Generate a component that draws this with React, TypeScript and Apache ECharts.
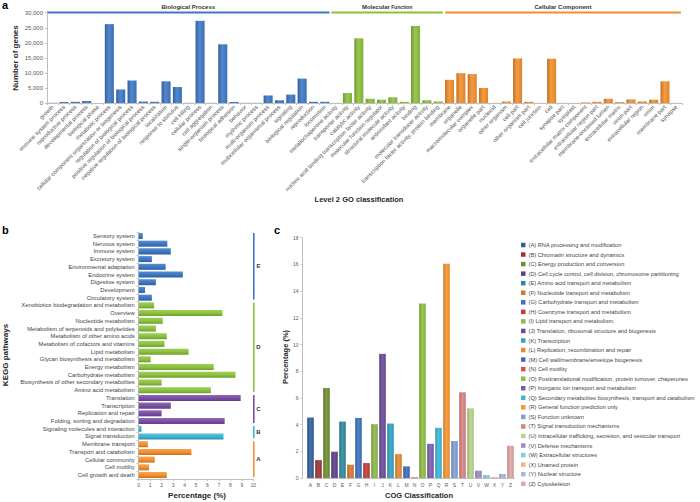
import React, { useEffect, useRef } from "react";
import * as echarts from "echarts";

// ---------- Panel a: Level 2 GO classification ----------
const goCategories = [
  "growth", "immune system process", "reproductive process", "developmental process", "biological phase",
  "metabolic process", "cellular component organization or biogenesis", "regulation of biological process",
  "positive regulation of biological process", "negative regulation of biological process", "localization",
  "response to stimulus", "cell killing", "cellular process", "cell aggregation", "single-organism process",
  "biological adhesion", "behavior", "rhythmic process", "multi-organism process", "multicellular organismal process",
  "signaling", "biological regulation", "reproduction", "locomotion",
  "metallochaperone activity", "transporter activity", "catalytic activity",
  "nucleic acid binding transcription factor activity", "molecular function regulator", "structural molecule activity",
  "antioxidant activity", "binding", "molecular transducer activity", "transcription factor activity, protein binding",
  "membrane", "organelle", "macromolecular complex", "organelle part", "nucleoid", "other organism", "cell part",
  "other organism part", "cell junction", "cell", "synapse part", "symplast", "extracellular matrix component",
  "extracellular region part", "membrane-enclosed lumen", "extracellular matrix", "virion part", "extracellular region",
  "virion", "membrane part", "synapse",
];
const goValues = [
  60, 350, 400, 700, 40, 26200, 4500, 7500, 500, 400, 7200, 5300, 40, 27300, 40, 19500, 350, 50, 50, 2500, 900,
  2800, 8100, 400, 400,
  30, 3300, 21500, 1400, 1100, 1900, 400, 25600, 900, 500,
  7700, 9900, 9600, 5000, 40, 500, 14800, 400, 40, 14700, 40, 40, 200, 400, 1400, 300, 1200, 500, 1100, 7200, 40,
];
const goGroupNames = ["Biological Process", "Molecular Function", "Cellular Component"];
const goGroupSizes = [25, 10, 21];
const goGroupColors = ["#3d78c6", "#8cbf3c", "#f28e2c"];

// ---------- Panel b: KEGG pathways ----------
const keggCategories = [
  "Sensory system", "Nervous system", "Immune system", "Excretory system", "Environmental adaptation",
  "Endocrine system", "Digestive system", "Development", "Circulatory system",
  "Xenobiotics biodegradation and metabolism", "Overview", "Nucleotide metabolism",
  "Metabolism of terpenoids and polyketides", "Metabolism of other amino acids", "Metabolism of cofactors and vitamins",
  "Lipid metabolism", "Glycan biosynthesis and metabolism", "Energy metabolism", "Carbohydrate metabolism",
  "Biosynthesis of other secondary metabolites", "Amino acid metabolism",
  "Translation", "Transcription", "Replication and repair", "Folding, sorting and degradation",
  "Signaling molecules and interaction", "Signal transduction",
  "Membrane transport", "Transport and catabolism", "Cellular community", "Cell motility", "Cell growth and death",
];
const keggValues = [
  0.35, 2.5, 2.8, 1.15, 2.35, 3.85, 1.5, 0.55, 1.15,
  1.35, 7.3, 2.1, 1.5, 2.45, 2.25, 4.35, 1.05, 6.55, 8.45, 2.0, 6.3,
  8.9, 2.8, 2.0, 7.5,
  0.25, 7.4,
  0.8, 4.6, 1.4, 0.9, 2.45,
];
const keggGroupLetters = ["E", "D", "C", "B", "A"];
const keggGroupSizes = [9, 12, 4, 2, 5];
const keggGroupColors = ["#3d78c6", "#8cc43c", "#7b4fa8", "#3eb5d4", "#f5922f"];

// ---------- Panel c: COG classification ----------
const cogLetters = ["A", "B", "C", "D", "E", "F", "G", "H", "I", "J", "K", "L", "M", "N", "O", "P", "Q", "R", "S", "T", "U", "V", "W", "X", "Y", "Z"];
const cogValues = [4.53, 1.34, 6.74, 1.97, 4.23, 1.0, 4.5, 1.12, 4.03, 9.3, 4.08, 1.79, 0.87, 0.05, 13.08, 2.56, 3.76, 16.04, 2.77, 6.42, 5.22, 0.55, 0.22, 0.07, 0.3, 2.42];
const cogDescriptions = [
  "RNA processing and modification", "Chromatin structure and dynamics", "Energy production and conversion",
  "Cell cycle control, cell division, chromosome partitioning", "Amino acid transport and metabolism",
  "Nucleotide transport and metabolism", "Carbohydrate transport and metabolism", "Coenzyme transport and metabolism",
  "Lipid transport and metabolism", "Translation, ribosomal structure and biogenesis", "Transcription",
  "Replication, recombination and repair", "Cell wall/membrane/envelope biogenesis", "Cell motility",
  "Posttranslational modification, protein turnover, chaperones", "Inorganic ion transport and metabolism",
  "Secondary metabolites biosynthesis, transport and catabolism", "General function prediction only",
  "Function unknown", "Signal transduction mechanisms", "Intracellular trafficking, secretion, and vesicular transport",
  "Defense mechanisms", "Extracellular structures", "Unamed protein", "Nuclear structure", "Cytoskeleton",
];
const cogColors = [
  "#2f5f9e", "#a03232", "#6f8f2f", "#5f3f8a", "#2f8aa0", "#d9782a", "#3b72c2", "#c23b3b", "#8fb84a",
  "#6a4a9a", "#2fa3c3", "#e8892e", "#3a6cc0", "#d94f4f", "#8cbf3f", "#7c5cb0", "#3bb8d8", "#f7952e",
  "#7f9fd6", "#d98282", "#b9d38a", "#9d8bc6", "#7fcce0", "#f7b57f", "#a9b6dd", "#e2a5a5",
];

const FONT = "Liberation Sans, Arial, sans-serif";

function shade(hex: string, amt: number): string {
  const n = parseInt(hex.slice(1), 16);
  let r = (n >> 16) & 255, g = (n >> 8) & 255, b = n & 255;
  const t = amt < 0 ? 0 : 255;
  const p = Math.abs(amt);
  r = Math.round(r + (t - r) * p);
  g = Math.round(g + (t - g) * p);
  b = Math.round(b + (t - b) * p);
  return "rgb(" + r + "," + g + "," + b + ")";
}
function gradH(c: string) {
  return new echarts.graphic.LinearGradient(0, 0, 1, 0, [
    { offset: 0, color: shade(c, -0.2) },
    { offset: 0.45, color: shade(c, 0.12) },
    { offset: 1, color: shade(c, -0.08) },
  ]);
}
function gradV(c: string) {
  return new echarts.graphic.LinearGradient(0, 0, 0, 1, [
    { offset: 0, color: shade(c, 0.15) },
    { offset: 0.5, color: c },
    { offset: 1, color: shade(c, -0.2) },
  ]);
}

const AXIS_GRAY = "#bfbfbf";
const LABEL_GRAY = "#595959";

export default function App() {
  const ref = useRef<HTMLDivElement>(null);
  useEffect(() => {
    if (!ref.current) return;
    const chart = echarts.init(ref.current, null, { renderer: "svg" });

    const gA = { left: 47, top: 12.7, width: 635, height: 90.3 };
    const gB = { left: 138.7, top: 232.1, width: 114.6, height: 246.8 };
    const gC = { left: 306.5, top: 237.7, width: 208, height: 240.3 };

    const goColorIdx: number[] = [];
    goGroupSizes.forEach((s, gi) => { for (let k = 0; k < s; k++) goColorIdx.push(gi); });
    const keggColorIdx: number[] = [];
    keggGroupSizes.forEach((s, gi) => { for (let k = 0; k < s; k++) keggColorIdx.push(gi); });

    const graphics: any[] = [];
    graphics.push({ type: "text", x: 2, y: -1, style: { text: "a", font: "bold 11px " + FONT, fill: "#000" } });
    graphics.push({ type: "text", x: 2, y: 224, style: { text: "b", font: "bold 11px " + FONT, fill: "#000" } });
    graphics.push({ type: "text", x: 274, y: 224, style: { text: "c", font: "bold 11px " + FONT, fill: "#000" } });

    const cwA = gA.width / goCategories.length;
    let start = 0;
    goGroupSizes.forEach((s, gi) => {
      const x1 = gA.left + start * cwA + (gi === 0 ? 0 : 1);
      const x2 = gA.left + (start + s) * cwA - 1;
      graphics.push({ type: "line", shape: { x1, y1: 12.5, x2, y2: 12.5 }, style: { stroke: goGroupColors[gi], lineWidth: 2 } });
      const parts = goGroupNames[gi].split(" ");
      const rich = gi === 1
        ? "{b|" + parts[0] + "}{s| " + parts[1] + "}"
        : "{b|" + goGroupNames[gi] + "}";
      graphics.push({
        type: "text", x: (x1 + x2) / 2, y: 7,
        style: {
          text: rich, align: "center", verticalAlign: "middle",
          rich: { b: { font: "bold 6px " + FONT, fill: "#333" }, s: { font: "bold 5px " + FONT, fill: "#333" } },
        },
      });
      start += s;
    });
    graphics.push({ type: "text", x: 15, y: 58, rotation: Math.PI / 2, style: { text: "Number of genes", font: "bold 8px " + FONT, fill: "#262626", align: "center", verticalAlign: "middle" } });
    graphics.push({ type: "text", x: 359, y: 199, style: { text: "Level 2 GO classification", font: "bold 7.5px " + FONT, fill: "#262626", align: "center", verticalAlign: "middle" } });

    const rhB = gB.height / keggCategories.length;
    start = 0;
    keggGroupSizes.forEach((s, gi) => {
      const y1 = gB.top + start * rhB + 1;
      const y2 = gB.top + (start + s) * rhB - 2;
      graphics.push({ type: "line", shape: { x1: 253.8, y1, x2: 253.8, y2 }, style: { stroke: keggGroupColors[gi], lineWidth: 1.6 } });
      graphics.push({ type: "text", x: 258.5, y: (y1 + y2) / 2, style: { text: keggGroupLetters[gi], font: "bold 6px " + FONT, fill: "#333", align: "center", verticalAlign: "middle" } });
      start += s;
    });
    graphics.push({ type: "text", x: 5, y: 355, rotation: Math.PI / 2, style: { text: "KEGG pathways", font: "bold 8px " + FONT, fill: "#262626", align: "center", verticalAlign: "middle" } });
    graphics.push({ type: "text", x: 197, y: 495.5, style: { text: "Percentage (%)", font: "bold 8px " + FONT, fill: "#262626", align: "center", verticalAlign: "middle" } });

    graphics.push({ type: "text", x: 285, y: 357, rotation: Math.PI / 2, style: { text: "Percentage (%)", font: "bold 7.5px " + FONT, fill: "#262626", align: "center", verticalAlign: "middle" } });
    graphics.push({ type: "text", x: 419, y: 495, style: { text: "COG Classification", font: "bold 7.5px " + FONT, fill: "#262626", align: "center", verticalAlign: "middle" } });

    cogLetters.forEach((l, i) => {
      const y = 245 + i * 9.55;
      graphics.push({ type: "rect", shape: { x: 521, y: y - 2.25, width: 4.5, height: 4.5 }, style: { fill: cogColors[i] } });
      graphics.push({ type: "text", x: 528.5, y, style: { text: "(" + l + ") " + cogDescriptions[i], font: "5.7px " + FONT, fill: "#3f3f3f", verticalAlign: "middle" } });
    });

    const option: any = {
      animation: false,
      backgroundColor: "#ffffff",
      textStyle: { fontFamily: FONT },
      grid: [
        { ...gA, containLabel: false },
        { ...gB, containLabel: false },
        { ...gC, containLabel: false },
      ],
      xAxis: [
        {
          gridIndex: 0, type: "category", data: goCategories,
          axisLine: { lineStyle: { color: AXIS_GRAY } },
          axisTick: { show: true, length: 2, lineStyle: { color: AXIS_GRAY } },
          axisLabel: { interval: 0, rotate: 45, fontSize: 5.8, color: LABEL_GRAY, margin: 3, fontFamily: FONT },
        },
        {
          gridIndex: 1, type: "value", min: 0, max: 10, interval: 1,
          axisLine: { show: true, lineStyle: { color: AXIS_GRAY } },
          axisTick: { show: true, length: 2, lineStyle: { color: AXIS_GRAY } },
          axisLabel: { fontSize: 5, color: LABEL_GRAY, margin: 4, fontFamily: FONT },
          splitLine: { show: false },
        },
        {
          gridIndex: 2, type: "category", data: cogLetters,
          axisLine: { lineStyle: { color: AXIS_GRAY } },
          axisTick: { show: false },
          axisLabel: { interval: 0, fontSize: 5, color: LABEL_GRAY, margin: 4, fontFamily: FONT },
        },
      ],
      yAxis: [
        {
          gridIndex: 0, type: "value", min: 0, max: 30000, interval: 5000,
          axisLine: { show: true, lineStyle: { color: AXIS_GRAY } },
          axisTick: { show: true, length: 2, lineStyle: { color: AXIS_GRAY } },
          axisLabel: { fontSize: 6, color: LABEL_GRAY, margin: 4, fontFamily: FONT },
          splitLine: { show: false },
        },
        {
          gridIndex: 1, type: "category", data: keggCategories, inverse: true,
          axisLine: { show: true, lineStyle: { color: AXIS_GRAY } },
          axisTick: { show: true, length: 2, lineStyle: { color: AXIS_GRAY } },
          axisLabel: { interval: 0, fontSize: 5.85, color: "#3f3f3f", margin: 4, fontFamily: FONT },
        },
        {
          gridIndex: 2, type: "value", min: 0, max: 18, interval: 2, offset: 4,
          axisLine: { show: true, lineStyle: { color: AXIS_GRAY } },
          axisTick: { show: true, length: 2, lineStyle: { color: AXIS_GRAY } },
          axisLabel: { fontSize: 5, color: LABEL_GRAY, margin: 4, fontFamily: FONT },
          splitLine: { show: false },
        },
      ],
      series: [
        {
          type: "bar", xAxisIndex: 0, yAxisIndex: 0, barCategoryGap: "20%",
          data: goValues.map((v, i) => ({ value: v, itemStyle: { color: gradH(goGroupColors[goColorIdx[i]]) } })),
        },
        {
          type: "bar", xAxisIndex: 1, yAxisIndex: 1, barCategoryGap: "22%",
          data: keggValues.map((v, i) => ({ value: v, itemStyle: { color: gradV(keggGroupColors[keggColorIdx[i]]) } })),
        },
        {
          type: "bar", xAxisIndex: 2, yAxisIndex: 2, barCategoryGap: "18%",
          data: cogValues.map((v, i) => ({ value: v, itemStyle: { color: gradH(cogColors[i]) } })),
        },
      ],
      graphic: graphics,
    };
    chart.setOption(option);
    return () => chart.dispose();
  }, []);
  return <div ref={ref} style={{ position: "absolute", left: 0, top: 0, width: 700, height: 502 }} />;
}
